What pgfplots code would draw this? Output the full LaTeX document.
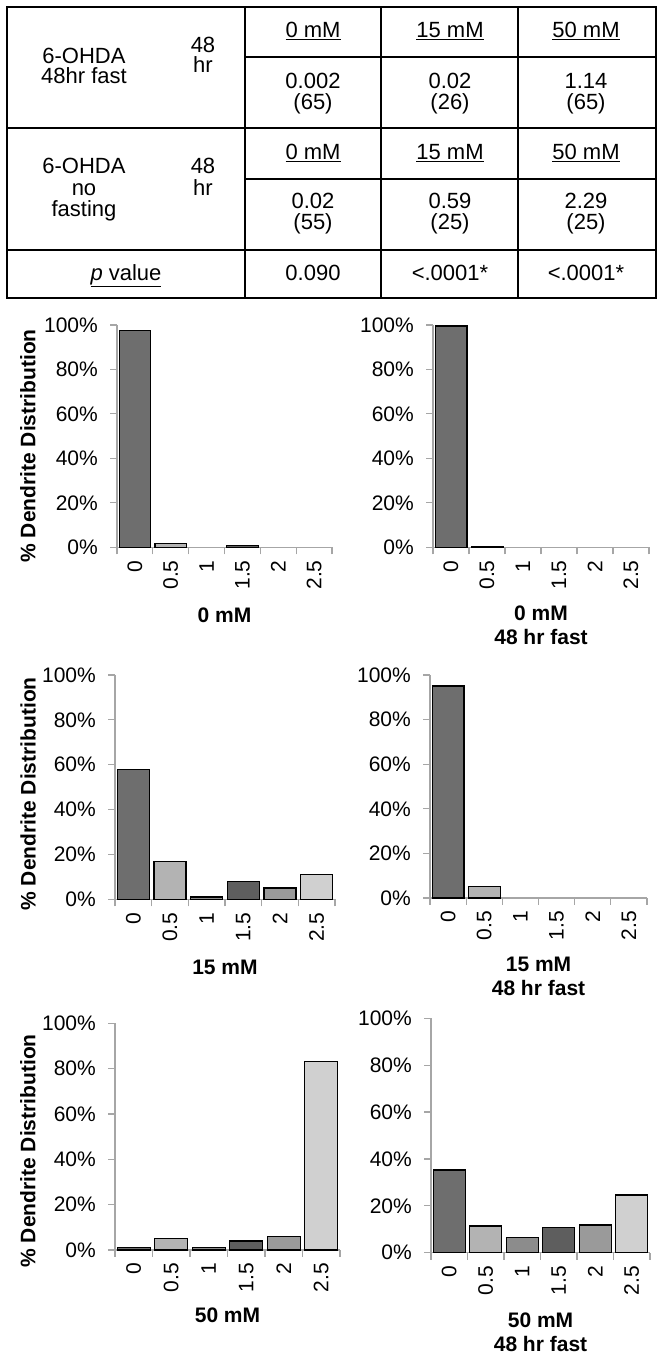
\documentclass[border=0pt]{standalone}
\usepackage{pgfplots}
\pgfplotsset{compat=1.18}
\usepackage{fontspec}
\setmainfont{Liberation Sans}
\definecolor{axgray}{HTML}{A6A6A6}
\definecolor{c0}{HTML}{6E6E6E}
\definecolor{c1}{HTML}{B3B3B3}
\definecolor{c2}{HTML}{8C8C8C}
\definecolor{c3}{HTML}{5E5E5E}
\definecolor{c4}{HTML}{9A9A9A}
\definecolor{c5}{HTML}{D0D0D0}
\pgfplotsset{
  dd/.style={
    scale only axis, anchor=south west, clip=false,
    xmin=-0.5, xmax=5.5, ymin=0, ymax=100,
    axis x line*=bottom, axis y line*=left,
    axis line style={draw=axgray, line width=1.2bp},
    ytick={0,20,40,60,80,100},
    yticklabels={0\%,20\%,40\%,60\%,80\%,100\%},
    xtick={-0.5,0.5,1.5,2.5,3.5,4.5,5.5}, xticklabels={},
    extra x ticks={0,1,2,3,4,5},
    extra x tick labels={0,0.5,1,1.5,2,2.5},
    extra x tick style={major tick length=0pt},
    tick align=outside, major tick length=7bp,
    tick style={draw=axgray, line width=1.2bp},
    xticklabel style={rotate=90, anchor=east, inner sep=0pt, xshift=-13bp},
    yticklabel style={anchor=east, inner sep=0pt, xshift=-12bp},
    xlabel style={anchor=center, align=center, font=\bfseries},
    ylabel style={anchor=center, font=\bfseries},
    ybar,
  },
  b/.style={fill=#1, draw=black, line width=1.3bp, bar shift=0pt, bar width=0.88},
}
\begin{document}
\fontsize{21bp}{24bp}\selectfont
\begin{tikzpicture}[x=1bp,y=1bp]
\path[use as bounding box] (0,0) rectangle (663,1358);
% ---------- table ----------
\begin{scope}[yshift=1358bp, y=-1bp]
\draw[line width=2.5bp] (7,7) rectangle (656,298);
\draw[line width=2.5bp] (245,7)--(245,298) (381,7)--(381,298) (518,7)--(518,298)
  (7,128)--(656,128) (7,250)--(656,250) (245,57)--(656,57) (245,179)--(656,179);
\path[every node/.style={anchor=base, inner sep=0pt, font=\fontsize{22bp}{24bp}\selectfont}]
  (84,63.5) node {6-OHDA}
  (84,83.5) node {48hr fast}
  (203,52.5) node {48}
  (203,72.5) node {hr}
  (84,174) node {6-OHDA}
  (84,195.5) node {no}
  (84,216.5) node {fasting}
  (203,174) node {48}
  (203,195.5) node {hr}
  (313,37.5) node {\underline{0 mM}}
  (450,37.5) node {\underline{15 mM}}
  (586,37.5) node {\underline{50 mM}}
  (313,89) node {0.002}
  (313,110) node {(65)}
  (450,89) node {0.02}
  (450,110) node {(26)}
  (586,89) node {1.14}
  (586,110) node {(65)}
  (313,159.5) node {\underline{0 mM}}
  (450,159.5) node {\underline{15 mM}}
  (586,159.5) node {\underline{50 mM}}
  (313,209) node {0.02}
  (313,230) node {(55)}
  (450,209) node {0.59}
  (450,230) node {(25)}
  (586,209) node {2.29}
  (586,230) node {(25)}
  (126,280.5) node {\underline{\textit{p} value}}
  (313,280.5) node {0.090}
  (450,280.5) node {<.0001*}
  (586,280.5) node {<.0001*};
\end{scope}
% ---------- chart 1: 0 mM ----------
\begin{axis}[dd, at={(117bp,810.7bp)}, width=215bp, height=222.3bp,
  xlabel={0 mM}, xlabel style={at={(axis description cs:0.5,-0.305)}},
  ylabel={\% Dendrite Distribution}, ylabel style={at={(axis description cs:-0.414,0.456)}}]
\addplot[b=c0] coordinates {(0,97.5)};
\addplot[b=c1] coordinates {(1,1.7)};
\addplot[b=c3] coordinates {(3,0.8)};
\end{axis}
% ---------- chart 2: 0 mM 48 hr fast ----------
\begin{axis}[dd, at={(433bp,810.7bp)}, width=216bp, height=222.3bp,
  xlabel={0 mM\\48 hr fast}, xlabel style={at={(axis description cs:0.5,-0.35)}}]
\addplot[b=c0] coordinates {(0,99.6)};
\addplot[b=c1] coordinates {(1,0.4)};
\end{axis}
% ---------- chart 3: 15 mM ----------
\begin{axis}[dd, at={(115bp,458.7bp)}, width=220bp, height=224.3bp,
  xlabel={15 mM}, xlabel style={at={(axis description cs:0.5,-0.302)}},
  ylabel={\% Dendrite Distribution}, ylabel style={at={(axis description cs:-0.395,0.47)}}]
\addplot[b=c0] coordinates {(0,58)};
\addplot[b=c1] coordinates {(1,17)};
\addplot[b=c2] coordinates {(2,1)};
\addplot[b=c3] coordinates {(3,8)};
\addplot[b=c4] coordinates {(4,5)};
\addplot[b=c5] coordinates {(5,11)};
\end{axis}
% ---------- chart 4: 15 mM 48 hr fast ----------
\begin{axis}[dd, at={(430bp,460bp)}, width=217bp, height=223bp,
  xlabel={15 mM\\48 hr fast}, xlabel style={at={(axis description cs:0.5,-0.352)}}]
\addplot[b=c0] coordinates {(0,95)};
\addplot[b=c1] coordinates {(1,5)};
\end{axis}
% ---------- chart 5: 50 mM ----------
\begin{axis}[dd, at={(115bp,108bp)}, width=225bp, height=226.7bp,
  xlabel={50 mM}, xlabel style={at={(axis description cs:0.5,-0.287)}},
  ylabel={\% Dendrite Distribution}, ylabel style={at={(axis description cs:-0.387,0.437)}}]
\addplot[b=c0] coordinates {(0,1)};
\addplot[b=c1] coordinates {(1,5)};
\addplot[b=c2] coordinates {(2,1)};
\addplot[b=c3] coordinates {(3,4)};
\addplot[b=c4] coordinates {(4,6)};
\addplot[b=c5] coordinates {(5,83)};
\end{axis}
% ---------- chart 6: 50 mM 48 hr fast ----------
\begin{axis}[dd, at={(431bp,105.3bp)}, width=219bp, height=234.4bp,
  xlabel={50 mM\\48 hr fast}, xlabel style={at={(axis description cs:0.5,-0.34)}}]
\addplot[b=c0] coordinates {(0,35.3)};
\addplot[b=c1] coordinates {(1,11.4)};
\addplot[b=c2] coordinates {(2,6.5)};
\addplot[b=c3] coordinates {(3,10.8)};
\addplot[b=c4] coordinates {(4,11.8)};
\addplot[b=c5] coordinates {(5,24.6)};
\end{axis}
\end{tikzpicture}
\end{document}
